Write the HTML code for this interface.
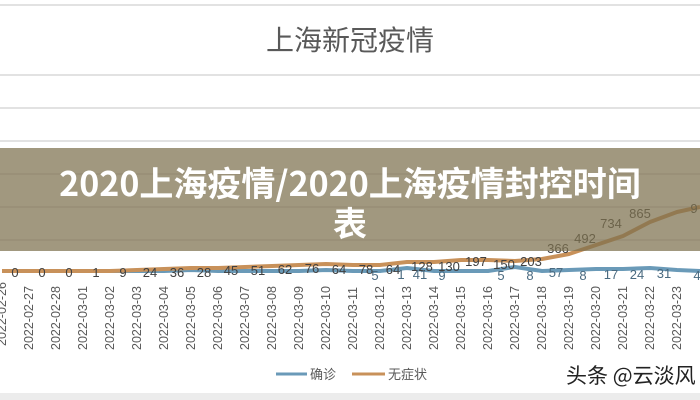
<!DOCTYPE html>
<html><head><meta charset="utf-8"><style>
html,body{margin:0;padding:0;background:#fff;}
body{width:700px;height:400px;overflow:hidden;position:relative;font-family:"Liberation Sans","Noto Sans CJK SC",sans-serif;}
</style></head><body>
<svg width="700" height="400" viewBox="0 0 700 400" xmlns="http://www.w3.org/2000/svg" style="position:absolute;left:0;top:0">
<rect width="700" height="400" fill="#fff"/>
<g stroke="#d9d9d9" stroke-width="1.5">
<line x1="0" y1="5" x2="700" y2="5"/>
<line x1="0" y1="75" x2="700" y2="75"/>
<line x1="0" y1="108" x2="700" y2="108"/>
<line x1="0" y1="141" x2="700" y2="141"/>
<line x1="0" y1="174" x2="700" y2="174"/>
<line x1="0" y1="207" x2="700" y2="207"/>
<line x1="0" y1="240" x2="700" y2="240"/>
</g>
<text x="350" y="50" text-anchor="middle" font-size="28" fill="#595959" font-family="Noto Sans CJK SC,sans-serif">上海新冠疫情</text>
<polyline fill="none" stroke="#6a9ab8" stroke-width="4" stroke-linejoin="round" points="2,271 29,271 56,271 83,271 110,271 137,271 164,271 191,270 218,271 245,271 272,271 299,271 326,270 353,271 380,271 407,268 434,271 461,271 488,271 515,267 542,271 569,270 596,269 623,269 650,268 677,270 700,271"/>
<polyline fill="none" stroke="#c8915a" stroke-width="4" stroke-linejoin="round" points="2,271 29,271 56,271 83,271 110,271 137,270 164,269 191,268 218,268 245,267 272,266 299,265 326,264 353,265 380,265 407,262 434,262 461,260 488,260 515,261 542,259 569,254 596,245 623,236 650,222 677,212 700,207"/>
<g font-size="13" fill="#404040" text-anchor="middle" font-family="Liberation Sans,sans-serif">
<text x="15" y="277">0</text><text x="42" y="277">0</text><text x="69" y="277">0</text><text x="96" y="277">1</text><text x="123" y="277">9</text>
<text x="150" y="277">24</text><text x="177" y="277">36</text><text x="204" y="277">28</text><text x="231" y="275">45</text><text x="258" y="275">51</text>
<text x="285" y="274">62</text><text x="312" y="273">76</text><text x="339" y="274">64</text><text x="366" y="274">78</text><text x="393" y="274">64</text>
<text x="422" y="271">128</text><text x="449" y="271">130</text><text x="476" y="266">197</text><text x="504" y="269">150</text><text x="531" y="266">203</text>
<text x="558" y="253">366</text><text x="585" y="243">492</text><text x="611" y="228">734</text><text x="640" y="218">865</text><text x="694" y="213">9</text>
<text x="375" y="280" fill="#4a6a80">5</text><text x="401" y="279" fill="#4a6a80">1</text><text x="420" y="279" fill="#4a6a80">41</text><text x="442" y="280" fill="#4a6a80">9</text><text x="501" y="280" fill="#4a6a80">5</text><text x="530" y="280" fill="#4a6a80">8</text><text x="556" y="277" fill="#4a6a80">57</text><text x="583" y="280" fill="#4a6a80">8</text><text x="611" y="279" fill="#4a6a80">17</text><text x="637" y="279" fill="#4a6a80">24</text><text x="664" y="278" fill="#4a6a80">31</text><text x="697" y="280" fill="#4a6a80">4</text>
</g>
<g font-size="12.5" fill="#595959" font-family="Liberation Sans,sans-serif">
<text transform="translate(6,346) rotate(-90)">2022-02-26</text>
<text transform="translate(33,350) rotate(-90)">2022-02-27</text>
<text transform="translate(60,350) rotate(-90)">2022-02-28</text>
<text transform="translate(87,350) rotate(-90)">2022-03-01</text>
<text transform="translate(114,350) rotate(-90)">2022-03-02</text>
<text transform="translate(141,350) rotate(-90)">2022-03-03</text>
<text transform="translate(168,350) rotate(-90)">2022-03-04</text>
<text transform="translate(195,350) rotate(-90)">2022-03-05</text>
<text transform="translate(222,350) rotate(-90)">2022-03-06</text>
<text transform="translate(249,350) rotate(-90)">2022-03-07</text>
<text transform="translate(276,350) rotate(-90)">2022-03-08</text>
<text transform="translate(303,350) rotate(-90)">2022-03-09</text>
<text transform="translate(330,350) rotate(-90)">2022-03-10</text>
<text transform="translate(357,350) rotate(-90)">2022-03-11</text>
<text transform="translate(384,350) rotate(-90)">2022-03-12</text>
<text transform="translate(411,350) rotate(-90)">2022-03-13</text>
<text transform="translate(438,350) rotate(-90)">2022-03-14</text>
<text transform="translate(465,350) rotate(-90)">2022-03-15</text>
<text transform="translate(492,350) rotate(-90)">2022-03-16</text>
<text transform="translate(519,350) rotate(-90)">2022-03-17</text>
<text transform="translate(546,350) rotate(-90)">2022-03-18</text>
<text transform="translate(573,350) rotate(-90)">2022-03-19</text>
<text transform="translate(600,350) rotate(-90)">2022-03-20</text>
<text transform="translate(627,350) rotate(-90)">2022-03-21</text>
<text transform="translate(654,350) rotate(-90)">2022-03-22</text>
<text transform="translate(681,350) rotate(-90)">2022-03-23</text>
</g>
<line x1="276" y1="374" x2="307" y2="374" stroke="#6a9ab8" stroke-width="3"/>
<text x="310" y="379" font-size="13" fill="#595959" font-family="Noto Sans CJK SC,sans-serif">确诊</text>
<line x1="352" y1="374" x2="385" y2="374" stroke="#c8915a" stroke-width="3"/>
<text x="388" y="379" font-size="13" fill="#595959" font-family="Noto Sans CJK SC,sans-serif">无症状</text>
<text x="566" y="383" font-size="21" fill="#222" font-family="Noto Sans CJK SC,sans-serif">头条 @云淡风</text>
<rect x="0" y="393" width="700" height="7" fill="#ececec"/>
<rect x="0" y="148" width="700" height="103" fill="rgb(125,112,78)" fill-opacity="0.72"/>
<text x="350" y="196" text-anchor="middle" font-size="34" font-weight="bold" fill="#fff" font-family="Noto Sans CJK SC,sans-serif">2020上海疫情/2020上海疫情封控时间</text>
<text x="350" y="236" text-anchor="middle" font-size="34" font-weight="bold" fill="#fff" font-family="Noto Sans CJK SC,sans-serif">表</text>
</svg>
</body></html>
